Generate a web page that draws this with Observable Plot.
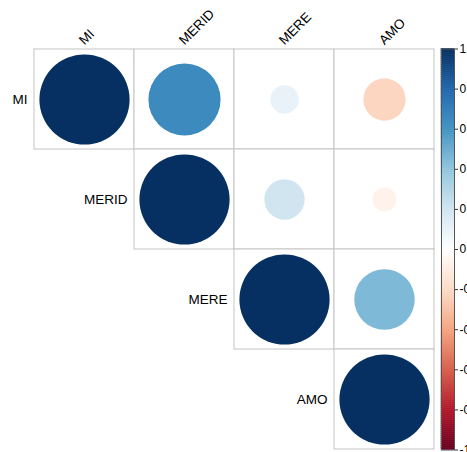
<!DOCTYPE html>
<html>
<head>
<meta charset="utf-8">
<script src="https://cdn.jsdelivr.net/npm/d3@7"></script>
<script src="https://cdn.jsdelivr.net/npm/@observablehq/plot@0.6"></script>
<style>
  html, body { margin: 0; padding: 0; background: #fff; }
  #wrap { position: relative; width: 467px; height: 452px; overflow: hidden; }
  #wrap svg { position: absolute; left: 0; top: 0; }
  #legend { pointer-events: none; }
</style>
</head>
<body>
<div id="wrap"></div>
<script>
// Variables (matrix order)
const variables = ["MI", "MERID", "MERE", "AMO"];
// Upper-triangle correlation pairs (row, column, value)
const pairRow = ["MI", "MI", "MI", "MI", "MERID", "MERID", "MERID", "MERE", "MERE", "AMO"];
const pairCol = ["MI", "MERID", "MERE", "AMO", "MERID", "MERE", "AMO", "MERE", "AMO", "AMO"];
const pairValue = [1, 0.64, 0.10, -0.22, 1, 0.20, -0.07, 1, 0.45, 1];
// Colour bar ticks and palette stops
const legendTicks = [-1, -0.8, -0.6, -0.4, -0.2, 0, 0.2, 0.4, 0.6, 0.8, 1];
const paletteColors = ["#67001F", "#B2182B", "#D6604D", "#F4A582", "#FDDBC7", "#FFFFFF",
                       "#D1E5F0", "#92C5DE", "#4393C3", "#2166AC", "#053061"];

const pairs = pairRow.map((r, i) => ({row: r, col: pairCol[i], value: pairValue[i]}));

const font = "'Liberation Sans', Arial, sans-serif";
const colorScale = {type: "linear", domain: legendTicks, range: paletteColors, interpolate: "rgb"};

const main = Plot.plot({
  width: 467,
  height: 452,
  marginLeft: 0, marginRight: 0, marginTop: 0, marginBottom: 0,
  style: {fontFamily: font, background: "transparent", overflow: "visible"},
  x: {domain: variables, range: [33.5, 435], padding: 0, axis: null},
  y: {domain: variables, range: [48.5, 450], padding: 0, axis: null},
  r: {type: "sqrt", domain: [0, 1], range: [0, 45.1]},
  color: colorScale,
  marks: [
    Plot.cell(pairs, {x: "col", y: "row", fill: "white", stroke: "#c4c4c4", strokeWidth: 1}),
    Plot.dot(pairs, {x: "col", y: "row", r: d => Math.abs(d.value), fill: "value", stroke: null}),
    // Column labels (rotated, above the grid)
    Plot.text(variables, {
      x: d => d, frameAnchor: "top", dy: 45, dx: 0,
      text: d => d, rotate: -45, textAnchor: "start", lineAnchor: "bottom",
      fontSize: 13.5, fill: "#000"
    }),
    // Row labels (to the left of the diagonal cell)
    Plot.text(variables, {
      x: d => d, y: d => d, text: d => d, textAnchor: "end", dx: -57,
      fontSize: 13.5, fill: "#000"
    })
  ]
});

const legendStep = 0.01;
const legendBins = d3.range(200).map(i => -1 + i * legendStep);

const legend = Plot.plot({
  width: 467,
  height: 452,
  marginLeft: 441, marginRight: 13, marginTop: 48.5, marginBottom: 2.5,
  style: {fontFamily: font, background: "transparent", overflow: "visible"},
  x: {domain: [0, 1], axis: null},
  y: {domain: [-1, 1], axis: null},
  color: colorScale,
  marks: [
    Plot.rect(legendBins, {x1: 0, x2: 1, y1: d => d, y2: d => d + legendStep,
      fill: d => d + legendStep / 2, stroke: d => d + legendStep / 2, strokeWidth: 0.6}),
    Plot.frame({stroke: "#555", strokeWidth: 1}),
    Plot.axisY(legendTicks, {anchor: "right", tickSize: 3, tickPadding: 2,
      tickFormat: d => String(+d.toFixed(1)), fontSize: 12, fill: "#000", stroke: "#333"})
  ]
});
legend.setAttribute("id", "legend");

const wrap = document.getElementById("wrap");
wrap.appendChild(main);
wrap.appendChild(legend);
</script>
</body>
</html>
